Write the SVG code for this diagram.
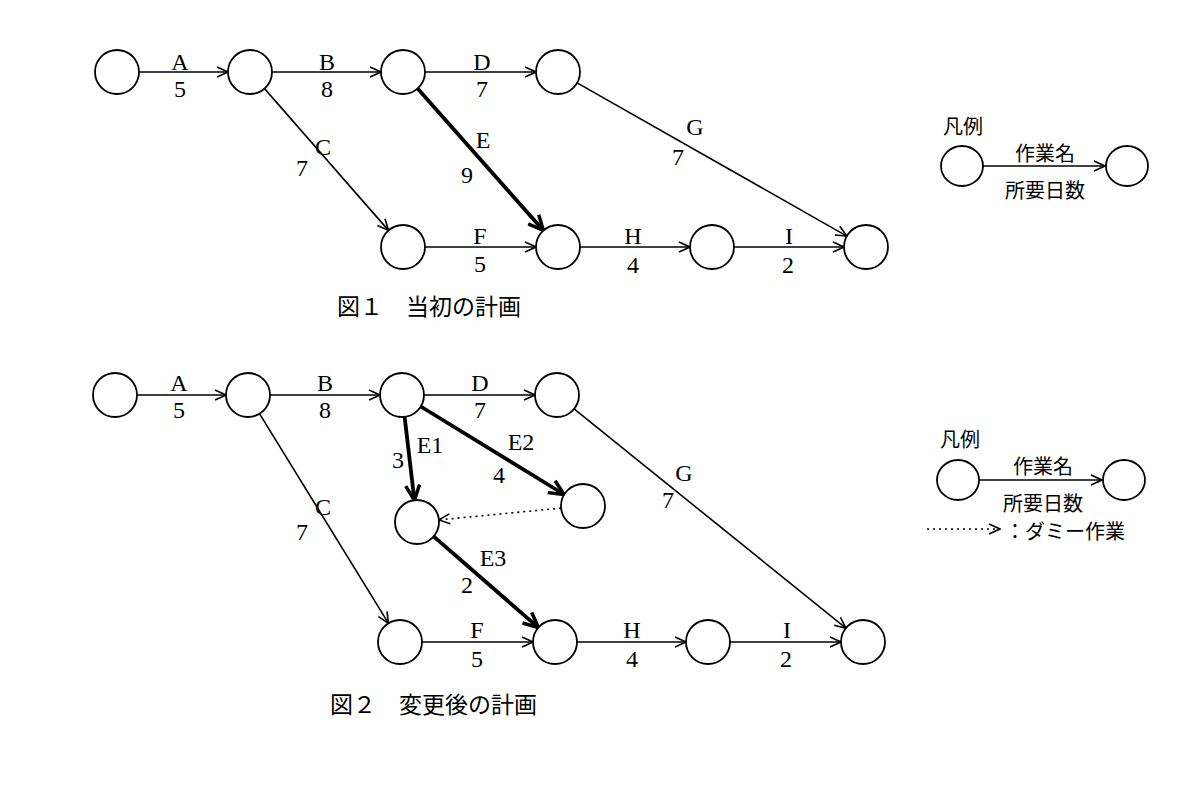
<svg xmlns="http://www.w3.org/2000/svg" width="1188" height="790" viewBox="0 0 1188 790">
<style>
.n{fill:#fff;stroke:#000;stroke-width:1.8}
.e{stroke:#000;stroke-width:1.6;fill:none;marker-end:url(#a)}
.t{stroke:#000;stroke-width:3.8;fill:none;marker-end:url(#b)}
.d{stroke:#000;stroke-width:1.6;fill:none;stroke-dasharray:2 4;marker-end:url(#a)}
.l{font-family:"Liberation Serif",serif;font-size:24px;text-anchor:middle;dominant-baseline:central}
.j{font-family:"Noto Sans CJK JP",sans-serif;font-size:20px;dominant-baseline:central}
.c{font-family:"Noto Sans CJK JP",sans-serif;font-size:23px;dominant-baseline:central}
</style>
<defs>
<marker id="a" markerUnits="userSpaceOnUse" markerWidth="14" markerHeight="14" viewBox="0 0 14 14" refX="13" refY="7" orient="auto"><path d="M2,2 L13,7 L2,12" fill="none" stroke="#000" stroke-width="1.6"/></marker>
<marker id="b" markerUnits="userSpaceOnUse" markerWidth="20" markerHeight="20" viewBox="0 0 20 20" refX="18" refY="10" orient="auto"><path d="M3,3 L18,10 L3,17" fill="none" stroke="#000" stroke-width="3.5"/></marker>
</defs>
<g id="connectors">
<line class="e" x1="139" y1="72" x2="228" y2="72"/>
<line class="e" x1="272" y1="72" x2="381" y2="72"/>
<line class="e" x1="425" y1="72" x2="536" y2="72"/>
<line class="e" x1="264.5" y1="88.6" x2="388.5" y2="230.4"/>
<line class="t" x1="417.6" y1="88.5" x2="543.4" y2="230.5"/>
<line class="e" x1="577.1" y1="82.9" x2="846.9" y2="236.1"/>
<line class="e" x1="425" y1="247" x2="536" y2="247"/>
<line class="e" x1="580" y1="247" x2="690" y2="247"/>
<line class="e" x1="734" y1="247" x2="844" y2="247"/>
<line class="e" x1="137" y1="395" x2="226" y2="395"/>
<line class="e" x1="270" y1="395" x2="380" y2="395"/>
<line class="e" x1="424" y1="395" x2="535" y2="395"/>
<line class="e" x1="259.5" y1="413.7" x2="388.5" y2="623.3"/>
<line class="t" x1="404.6" y1="416.8" x2="414.4" y2="500.2"/>
<line class="t" x1="420.8" y1="406.5" x2="564.2" y2="494.5"/>
<line class="d" x1="561.1" y1="508.1" x2="438.9" y2="519.9"/>
<line class="t" x1="433.6" y1="536.4" x2="538.4" y2="627.6"/>
<line class="e" x1="574.1" y1="408.8" x2="845.9" y2="628.2"/>
<line class="e" x1="422" y1="642" x2="533" y2="642"/>
<line class="e" x1="577" y1="642" x2="686" y2="642"/>
<line class="e" x1="730" y1="642" x2="841" y2="642"/>
<line class="e" x1="982" y1="166" x2="1105" y2="166"/>
<line class="e" x1="978" y1="480" x2="1102" y2="480"/>
<line class="d" x1="927" y1="529" x2="1000" y2="529"/>
</g>
<g id="fig1-nodes">
<circle id="f1n1" class="n" cx="117" cy="72" r="22"/>
<circle id="f1n2" class="n" cx="250" cy="72" r="22"/>
<circle id="f1n3" class="n" cx="403" cy="72" r="22"/>
<circle id="f1n4" class="n" cx="558" cy="72" r="22"/>
<circle id="f1n5" class="n" cx="403" cy="247" r="22"/>
<circle id="f1n6" class="n" cx="558" cy="247" r="22"/>
<circle id="f1n7" class="n" cx="712" cy="247" r="22"/>
<circle id="f1n8" class="n" cx="866" cy="247" r="22"/>
</g>
<g id="fig2-nodes">
<circle id="f2n1" class="n" cx="115" cy="395" r="22"/>
<circle id="f2n2" class="n" cx="248" cy="395" r="22"/>
<circle id="f2n3" class="n" cx="402" cy="395" r="22"/>
<circle id="f2n4" class="n" cx="557" cy="395" r="22"/>
<circle id="f2m" class="n" cx="417" cy="522" r="22"/>
<circle id="f2p" class="n" cx="583" cy="506" r="22"/>
<circle id="f2q" class="n" cx="400" cy="642" r="22"/>
<circle id="f2r" class="n" cx="555" cy="642" r="22"/>
<circle id="f2s" class="n" cx="708" cy="642" r="22"/>
<circle id="f2t" class="n" cx="863" cy="642" r="22"/>
</g>
<g id="legend-nodes">
<ellipse id="lg1a" class="n" cx="962" cy="166" rx="21" ry="20"/>
<ellipse id="lg1b" class="n" cx="1127" cy="166" rx="21" ry="20"/>
<ellipse id="lg2a" class="n" cx="958" cy="480" rx="21" ry="20"/>
<ellipse id="lg2b" class="n" cx="1124" cy="480" rx="21" ry="20"/>
</g>
<g id="labels">
<text class="l" x="180" y="62">A</text><text class="l" x="180" y="89">5</text>
<text class="l" x="327" y="62">B</text><text class="l" x="327" y="89">8</text>
<text class="l" x="482" y="62">D</text><text class="l" x="482" y="89">7</text>
<text class="l" x="323" y="147">C</text><text class="l" x="302" y="168">7</text>
<text class="l" x="483" y="140">E</text><text class="l" x="467" y="175">9</text>
<text class="l" x="695" y="127">G</text><text class="l" x="678" y="157">7</text>
<text class="l" x="480" y="236">F</text><text class="l" x="480" y="264">5</text>
<text class="l" x="633" y="236">H</text><text class="l" x="633" y="265">4</text>
<text class="l" x="789" y="236">I</text><text class="l" x="788" y="265">2</text>
<text class="c" x="337" y="305">図１　当初の計画</text>
<text class="l" x="179" y="383">A</text><text class="l" x="179" y="410">5</text>
<text class="l" x="325" y="383">B</text><text class="l" x="325" y="410">8</text>
<text class="l" x="480" y="383">D</text><text class="l" x="480" y="410">7</text>
<text class="l" x="323" y="507">C</text><text class="l" x="302" y="532">7</text>
<text class="l" x="430" y="445">E1</text><text class="l" x="398" y="460">3</text>
<text class="l" x="521" y="442">E2</text><text class="l" x="499" y="475">4</text>
<text class="l" x="493" y="558">E3</text><text class="l" x="467" y="585">2</text>
<text class="l" x="684" y="473">G</text><text class="l" x="668" y="500">7</text>
<text class="l" x="477" y="630">F</text><text class="l" x="477" y="659">5</text>
<text class="l" x="632" y="630">H</text><text class="l" x="632" y="659">4</text>
<text class="l" x="787" y="630">I</text><text class="l" x="786" y="659">2</text>
<text class="c" x="330" y="703">図２　変更後の計画</text>
<text class="j" x="943" y="125">凡例</text>
<text class="j" x="1045" y="152" text-anchor="middle">作業名</text>
<text class="j" x="1045" y="189" text-anchor="middle">所要日数</text>
<text class="j" x="940" y="438">凡例</text>
<text class="j" x="1043" y="465" text-anchor="middle">作業名</text>
<text class="j" x="1043" y="502" text-anchor="middle">所要日数</text>
<text class="j" x="1005" y="530">：ダミー作業</text>
</g>
</svg>
